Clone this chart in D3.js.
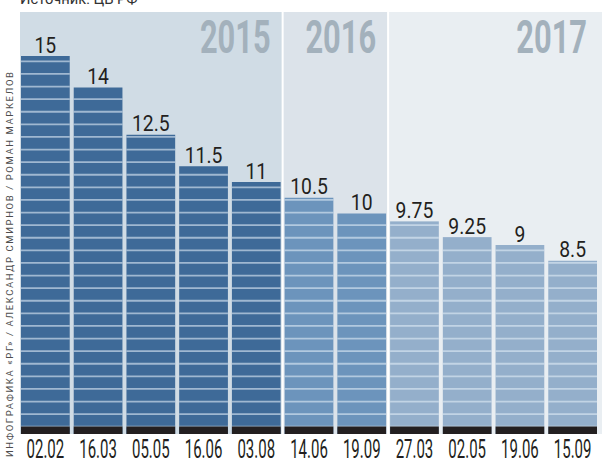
<!DOCTYPE html>
<html>
<head>
<meta charset="utf-8">
<script src="https://cdn.jsdelivr.net/npm/d3@7"></script>
<style>
  body { margin: 0; background: #fff; }
  svg { display: block; font-family: Roboto, "Noto Sans", sans-serif; }
</style>
</head>
<body>
<div id="chart"></div>
<script>
// Ключевая ставка ЦБ РФ, %
const dates = ['02.02', '16.03', '05.05', '16.06', '03.08', '14.06', '19.09', '27.03', '02.05', '19.06', '15.09'];
const rates = [15, 14, 12.5, 11.5, 11, 10.5, 10, 9.75, 9.25, 9, 8.5];
const barYears = ['2015', '2015', '2015', '2015', '2015', '2016', '2016', '2017', '2017', '2017', '2017'];
const yearLabels = ['2015', '2016', '2017'];
const sourceText = 'Источник: ЦБ РФ';
const creditText = 'ИНФОГРАФИКА «РГ» / АЛЕКСАНДР СМИРНОВ / РОМАН МАРКЕЛОВ';

const panelColors = { '2015': '#d0dce5', '2016': '#dce3ea', '2017': '#e9eef2' };
const barColors = { '2015': '#3e6a98', '2016': '#6c94bc', '2017': '#94afcb' };

const width = 602;
const height = 459;

const data = dates.map((d, i) => ({ date: d, rate: rates[i], year: barYears[i] }));

const svg = d3.select('#chart').append('svg')
  .attr('width', width)
  .attr('height', height);

const x = d3.scaleBand()
  .domain(dates)
  .range([21, 597])
  .paddingInner(0.076)
  .paddingOuter(0);

const y = d3.scaleLinear()
  .domain([3, 15])
  .range([434, 56]);

const bw = x.bandwidth();
const baseY = y(3);

// condensed text: draw at origin and squeeze horizontally
function condensed(sel, tx, ty, sx, str) {
  return sel.append('g')
    .attr('transform', `translate(${tx},${ty})`)
    .append('text')
    .attr('transform', `scale(${sx},1)`)
    .text(str);
}

// year panels
yearLabels.forEach(yr => {
  const items = data.filter(d => d.year === yr);
  const x0 = x(items[0].date) - 1;
  const x1 = yr === '2017' ? width : x(items[items.length - 1].date) + bw + 1;
  svg.append('rect')
    .attr('x', x0)
    .attr('y', 12)
    .attr('width', x1 - x0)
    .attr('height', baseY - 12)
    .attr('fill', panelColors[yr]);

  condensed(svg, x(items[items.length - 1].date) + bw - 10, 53, 0.67, yr)
    .attr('text-anchor', 'end')
    .attr('font-size', 46)
    .attr('font-weight', 700)
    .attr('fill', '#a3b1bc');
});

// bars
const bars = svg.append('g').attr('class', 'bars');

bars.selectAll('rect.bar')
  .data(data)
  .join('rect')
  .attr('class', 'bar')
  .attr('x', d => x(d.date))
  .attr('y', d => y(d.rate))
  .attr('width', bw)
  .attr('height', d => baseY - y(d.rate))
  .attr('fill', d => barColors[d.year]);

// horizontal stripes across the bars
const stripeValues = d3.range(3.23, 15, 0.4);
data.forEach(d => {
  const top = y(d.rate);
  bars.append('g')
    .selectAll('line')
    .data(stripeValues.filter(v => y(v) > top + 1))
    .join('line')
    .attr('x1', x(d.date))
    .attr('x2', x(d.date) + bw)
    .attr('y1', v => y(v))
    .attr('y2', v => y(v))
    .attr('stroke', 'rgba(225,236,246,0.6)')
    .attr('stroke-width', 1.8);
});

// black base band
bars.selectAll('rect.base')
  .data(data)
  .join('rect')
  .attr('class', 'base')
  .attr('x', d => x(d.date))
  .attr('y', baseY - 7.5)
  .attr('width', bw)
  .attr('height', 7.5)
  .attr('fill', '#231f20');

// value labels
data.forEach(d => {
  condensed(svg, x(d.date) + bw / 2, y(d.rate) - 3.5, 0.86, String(d.rate))
    .attr('text-anchor', 'middle')
    .attr('font-size', 22.5)
    .attr('fill', '#231f20');
});

// date axis
const xAxis = svg.append('g').attr('class', 'x-axis');
data.forEach(d => {
  condensed(xAxis, x(d.date) + bw / 2, 458, 0.6, d.date)
    .attr('text-anchor', 'middle')
    .attr('font-size', 25)
    .attr('fill', '#231f20');
});

// source, cut by the top edge
condensed(svg, 20, 3.5, 0.98, sourceText)
  .attr('font-size', 15)
  .attr('fill', '#333');

// vertical credit line
svg.append('text')
  .attr('transform', 'translate(13,457) rotate(-90)')
  .attr('font-size', 9.5)
  .attr('fill', '#4d4d4d')
  .attr('textLength', 385)
  .attr('lengthAdjust', 'spacing')
  .text(creditText);
</script>
</body>
</html>
